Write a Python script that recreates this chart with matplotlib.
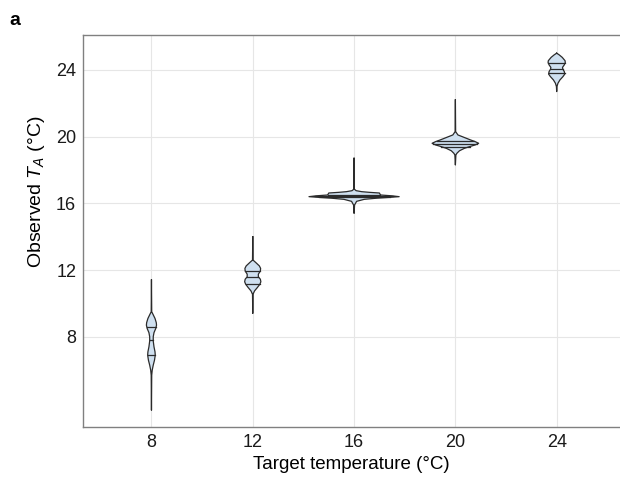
import numpy as np
import matplotlib
matplotlib.use("Agg")
import matplotlib.pyplot as plt

plt.rcParams['font.family'] = ['Liberation Sans', 'DejaVu Sans']
plt.rcParams['mathtext.fontset'] = 'custom'
plt.rcParams['mathtext.rm'] = 'Liberation Sans'
plt.rcParams['mathtext.it'] = 'Liberation Sans:italic'

# target temperatures (x positions of the violins)
targets = [8, 12, 16, 20, 24]

# violin outlines: observed temperature and half width (x units)
v8_y = [11.4, 9.5, 9.35, 9.1, 8.85, 8.7, 8.5, 8.25, 8.0, 7.75, 7.4, 7.1, 6.9, 6.6, 6.3, 6.0, 5.7, 3.6]
v8_w = [0.0, 0.01, 0.06, 0.14, 0.19, 0.2, 0.17, 0.1, 0.07, 0.07, 0.1, 0.14, 0.15, 0.12, 0.07, 0.03, 0.01, 0.0]

v12_y = [14.0, 12.6, 12.45, 12.25, 12.1, 11.95, 11.75, 11.6, 11.45, 11.3, 11.15, 10.95, 10.75, 10.55, 9.4]
v12_w = [0.0, 0.01, 0.12, 0.26, 0.31, 0.3, 0.22, 0.22, 0.3, 0.32, 0.28, 0.18, 0.07, 0.01, 0.0]

v16_y = [18.7, 16.85, 16.76, 16.7, 16.66, 16.62, 16.56, 16.5, 16.45, 16.4, 16.36, 16.31, 16.24, 16.12, 15.9, 15.4]
v16_w = [0.0, 0.01, 0.08, 0.3, 0.6, 1.0, 1.02, 1.05, 1.5, 1.78, 1.4, 0.9, 0.4, 0.1, 0.02, 0.0]

v20_y = [22.2, 20.3, 20.1, 19.95, 19.8, 19.7, 19.6, 19.5, 19.4, 19.3, 19.15, 19.0, 18.9, 18.3]
v20_w = [0.0, 0.01, 0.1, 0.35, 0.6, 0.78, 0.92, 0.78, 0.56, 0.36, 0.16, 0.06, 0.02, 0.0]

v24_y = [25.0, 24.9, 24.75, 24.55, 24.45, 24.3, 24.15, 24.05, 23.9, 23.75, 23.6, 23.4, 23.2, 23.0, 22.7]
v24_w = [0.0, 0.1, 0.22, 0.33, 0.34, 0.3, 0.23, 0.24, 0.3, 0.32, 0.25, 0.13, 0.05, 0.01, 0.0]

# 25 / 50 / 75 % quantile lines
q8 = [6.9, 7.8, 8.6]
q12 = [11.15, 11.6, 11.95]
q16 = [16.36, 16.44, 16.52]
q20 = [19.4, 19.56, 19.72]
q24 = [23.8, 24.05, 24.4]

violins = [(v8_y, v8_w, q8), (v12_y, v12_w, q12), (v16_y, v16_w, q16),
           (v20_y, v20_w, q20), (v24_y, v24_w, q24)]

fig = plt.figure(figsize=(6.2, 4.84), dpi=100)
ax = fig.add_axes([0.134, 0.118, 0.866, 0.81])

fill = '#cfe0f0'
edge = '#2b2b2b'
for xc, (vy, vw, qs) in zip(targets, violins):
    vy = np.array(vy)
    vw = np.array(vw)
    ax.fill_betweenx(vy, xc - vw, xc + vw, facecolor=fill, edgecolor='none', zorder=2)
    ax.plot(np.r_[xc - vw, (xc + vw)[::-1]], np.r_[vy, vy[::-1]], color=edge, lw=0.9, zorder=3)
    for q in qs:
        hw = np.interp(q, vy[::-1], vw[::-1])
        ax.plot([xc - hw, xc + hw], [q, q], color=edge, lw=0.9, zorder=3)

ax.set_xlim(5.3, 26.5)
ax.set_ylim(2.6, 26.1)
ax.set_xticks(targets)
ax.set_yticks([8, 12, 16, 20, 24])
ax.grid(True, color='#e6e6e6', lw=0.8, zorder=0)
ax.set_axisbelow(True)
ax.tick_params(length=0, pad=5, labelsize=13, colors='#1a1a1a')
for s in ['left', 'top', 'bottom']:
    ax.spines[s].set_color('#808080')
    ax.spines[s].set_linewidth(1.0)
ax.spines['right'].set_visible(False)

ax.set_xlabel('Target temperature (°C)', fontsize=13.5, labelpad=4)
ax.set_ylabel('Observed $T_A$ (°C)', fontsize=14, labelpad=6)
ax.yaxis.set_label_coords(-0.068, 0.60)
fig.text(0.015, 0.975, 'a', fontsize=14, fontweight='bold', va='top')

fig.savefig('out.png', dpi=100)
